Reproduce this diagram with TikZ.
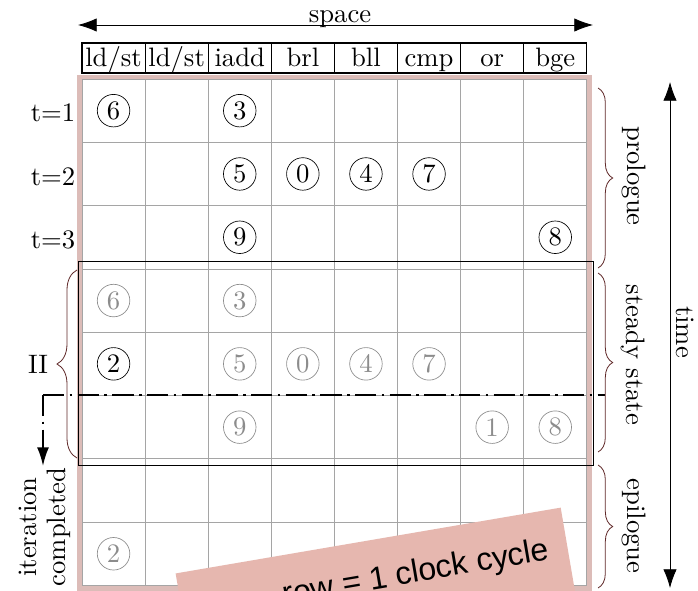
\documentclass[tikz,border=0pt]{standalone}
\usepackage{fontspec}
\newfontfamily\notefont{Liberation Sans}
\usetikzlibrary{arrows.meta,decorations.pathreplacing,positioning}

\definecolor{gridgrey}{RGB}{165,165,165}
\definecolor{fadegrey}{RGB}{140,140,140}
\definecolor{bracered}{RGB}{95,40,40}
\definecolor{notepink}{RGB}{230,183,175}
\definecolor{edgepink}{RGB}{220,188,184}

\begin{document}
\begin{tikzpicture}[
    x=0.75pt, y=-0.75pt,
    every node/.style={font=\fontsize{10}{11}\selectfont, scale=2, inner sep=0pt},
    head/.style={draw, line width=0.8pt, fill=white, minimum width=23.65pt, minimum height=11.25pt, text height=7pt, text depth=1pt},
    op/.style={circle, draw, line width=0.5pt, minimum size=12.2pt},
    opfaded/.style={op, draw=fadegrey, text=fadegrey},
    gridline/.style={gridgrey, line width=0.6pt},
    brace/.style={decorate, decoration={brace, amplitude=#1}, bracered, line width=0.6pt},
    bigarrow/.style={line width=0.6pt, {Latex[length=14pt,width=10pt]}-{Latex[length=14pt,width=10pt]}},
    cutline/.style={line width=1.5pt, dash pattern=on 16pt off 4pt on 2pt off 4pt},
    note/.style={fill=notepink, minimum width=146.5pt, minimum height=37.5pt}
]
\useasboundingbox (0,0) rectangle (698,590);
\clip (0,0) rectangle (698,590);

% Table body with its pink edge
\fill[edgepink] (77,75) rectangle (592,592);
\fill[white] (82,79) rectangle (586.8,585.4);
\foreach \i in {0,...,8}
    \draw[gridline] (82+63.1*\i,79) -- (82+63.1*\i,585.4);
\foreach \j in {0,...,8}
    \draw[gridline] (82,79+63.3*\j) -- (586.8,79+63.3*\j);

% Header row (functional units)
\node[head] (u1) at (113.55,58) {ld/st};
\node[head] (u2) at (176.65,58) {ld/st};
\node[head] (u3) at (239.75,58) {iadd};
\node[head] (u4) at (302.85,58) {brl};
\node[head] (u5) at (365.95,58) {bll};
\node[head] (u6) at (429.05,58) {cmp};
\node[head] (u7) at (492.15,58) {or};
\node[head] (u8) at (555.25,58) {bge};

% Space axis
\node[anchor=base] (space) at (340,22) {space};
\coordinate (spaceL) at (78,25);
\coordinate (spaceR) at (593,25);
\draw[bigarrow] (spaceL) -- (spaceR);

% Time axis
\coordinate (timeT) at (670,82);
\coordinate (timeB) at (670,588);
\draw[bigarrow] (timeT) -- (timeB);
\node[rotate=-90] (time) at (685,332) {time};

% Cycle labels
\node (t1) at (53,113) {t=1};
\node (t2) at (53,177) {t=2};
\node (t3) at (53,240) {t=3};

% Prologue operations
\node[op] (p6) at (113.55,110.65) {6};
\node[op] (p3) at (239.75,110.65) {3};
\node[op] (p5) at (239.75,173.95) {5};
\node[op] (p0) at (302.85,173.95) {0};
\node[op] (p4) at (365.95,173.95) {4};
\node[op] (p7) at (429.05,173.95) {7};
\node[op] (p9) at (239.75,237.25) {9};
\node[op] (p8) at (555.25,237.25) {8};

% Steady state operations
\node[opfaded] (s6) at (113.55,300.55) {6};
\node[opfaded] (s3) at (239.75,300.55) {3};
\node[op] (s2) at (113.55,363.85) {2};
\node[opfaded] (s5) at (239.75,363.85) {5};
\node[opfaded] (s0) at (302.85,363.85) {0};
\node[opfaded] (s4) at (365.95,363.85) {4};
\node[opfaded] (s7) at (429.05,363.85) {7};
\node[opfaded] (s9) at (239.75,427.15) {9};
\node[opfaded] (s1) at (492.15,427.15) {1};
\node[opfaded] (s8) at (555.25,427.15) {8};

% Epilogue operations
\node[opfaded] (e2) at (113.55,553.75) {2};

% Steady state frame
\draw[line width=0.6pt] (78,261) rectangle (593,465);

% Iteration cut
\coordinate (cutL) at (43,395);
\coordinate (cutR) at (605,395);
\coordinate (cutEnd) at (43,466);
\draw[cutline] (cutL) -- (cutR);
\draw[cutline, -{Latex[length=14pt,width=9pt]}] (cutL) -- (cutEnd);
\node[rotate=90, align=center] (done) at (45,527) {iteration\\completed};

% Left brace
\coordinate (iiB) at (77,458);
\coordinate (iiT) at (77,270);
\draw[brace=15pt] (iiB) -- (iiT);
\node (ii) at (38,364) {II};

% Right braces
\coordinate (proA) at (598,88);
\coordinate (proB) at (598,268);
\draw[brace=11pt] (proA) -- (proB);
\node[rotate=-90] (prologue) at (634,176) {prologue};

\coordinate (steA) at (598,273);
\coordinate (steB) at (598,452);
\draw[brace=11pt] (steA) -- (steB);
\node[rotate=-90] (steady) at (633,355) {steady state};

\coordinate (epiA) at (598,465);
\coordinate (epiB) at (598,588);
\draw[brace=11pt] (epiA) -- (epiB);
\node[rotate=-90] (epilogue) at (634,526) {epilogue};

% Sticky note
\node[note, rotate=9.7, anchor=north west] (sticker) at (175,573) {};
\node[rotate=9.7, font=\notefont\fontsize{12}{14}\selectfont] (caption) at (416,574) {row = 1 clock cycle};

\end{tikzpicture}
\end{document}
